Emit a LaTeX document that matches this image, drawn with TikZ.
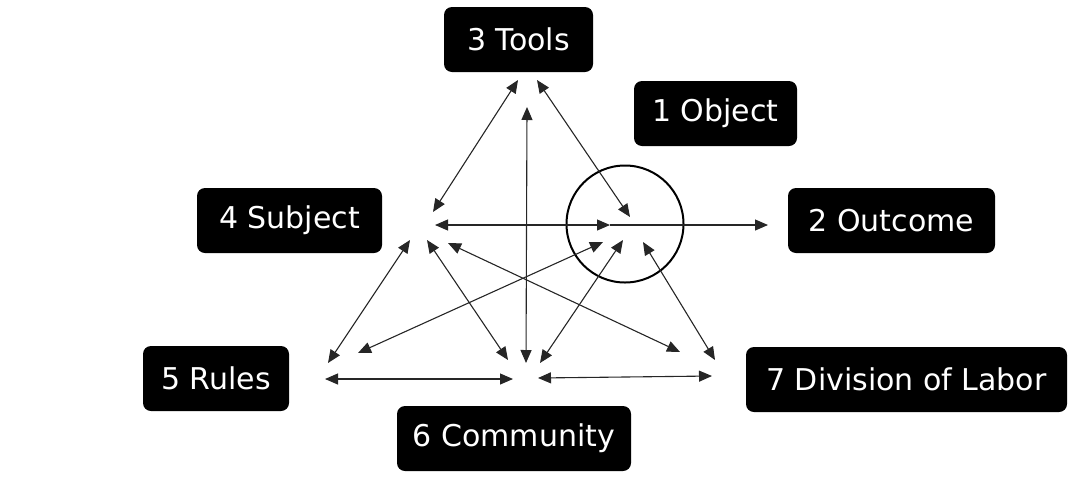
\documentclass[tikz,border=0pt]{standalone}
\usepackage{fontspec}
\setmainfont{DejaVu Sans}
\usetikzlibrary{arrows.meta}
\tikzset{
  lbl/.style={fill=black, text=white, rounded corners=8pt, inner sep=0pt, font=\fontsize{30}{33}\selectfont, anchor=center},
  conn/.style={draw=black!85, line width=1.1pt, {Triangle[length=13pt,width=11pt]}-{Triangle[length=13pt,width=11pt]}},
  oneway/.style={draw=black!85, line width=1.1pt, -{Triangle[length=13pt,width=11pt]}},
}
\begin{document}
\begin{tikzpicture}[x=1pt,y=-1pt]
\useasboundingbox (0,0) rectangle (1075,480);
% boxes
\node[lbl, minimum width=149pt, minimum height=65pt] (tools) at (518.5,39.5) {3 Tools};
\node[lbl, minimum width=163pt, minimum height=65pt] (object) at (715.5,113.5) {1 Object};
\node[lbl, minimum width=185pt, minimum height=65pt] (subject) at (289.5,220.5) {4 Subject};
\node[lbl, minimum width=207pt, minimum height=65pt] (outcome) at (891.5,220.5) {2 Outcome};
\node[lbl, minimum width=146pt, minimum height=65pt] (rules) at (216,378.5) {5 Rules};
\node[lbl, minimum width=234pt, minimum height=65pt] (community) at (514,438.5) {6 Community};
\node[lbl, minimum width=321pt, minimum height=65pt] (labor) at (906.5,379.5) {7 Division of Labor};
% circle round the object point
\node[draw=black, line width=2pt, circle, minimum size=117pt, inner sep=0pt] (ring) at (625,224) {};
% connector end points
\coordinate (t1) at (518,80);  \coordinate (t2) at (537,80);  \coordinate (t3) at (527,107);
\coordinate (s1) at (410,240); \coordinate (s2) at (427,240); \coordinate (s3) at (448,243);
\coordinate (s4) at (433,212); \coordinate (s5) at (435,225);
\coordinate (o1) at (603,242); \coordinate (o2) at (623,240); \coordinate (o3) at (643,242);
\coordinate (o4) at (630,217); \coordinate (o5) at (610,225);
\coordinate (out) at (768,225);
\coordinate (r1) at (328,363); \coordinate (r2) at (358,353); \coordinate (r3) at (325,379);
\coordinate (c1) at (508,360); \coordinate (c2) at (526,363); \coordinate (c3) at (540,363);
\coordinate (c4) at (513,379); \coordinate (c5) at (538,378);
\coordinate (d1) at (680,352); \coordinate (d2) at (715,360); \coordinate (d3) at (712,376);
% connectors
\draw[conn] (t1) -- (s4);
\draw[conn] (t2) -- (o4);
\draw[conn] (t3) -- (c2);
\draw[conn] (s5) -- (o5);
\draw[oneway] (o5) -- (out);
\draw[conn] (s1) -- (r1);
\draw[conn] (s2) -- (c1);
\draw[conn] (s3) -- (d1);
\draw[conn] (o1) -- (r2);
\draw[conn] (o2) -- (c3);
\draw[conn] (o3) -- (d2);
\draw[conn] (r3) -- (c4);
\draw[conn] (c5) -- (d3);
\end{tikzpicture}
\end{document}
